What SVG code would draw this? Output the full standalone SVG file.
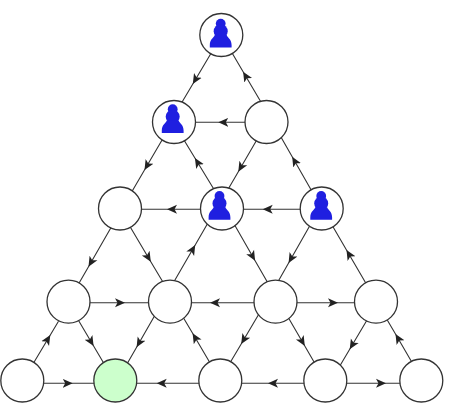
<svg xmlns="http://www.w3.org/2000/svg" width="465" height="406" viewBox="0 0 465 406">
<style>
.n{fill:#fff;stroke:#333;stroke-width:1.3}
.g{fill:#ccffcc;stroke:#333;stroke-width:1.3}
.p{fill:#1f1fe0}
#edges polyline{fill:none;stroke:#333;stroke-width:1.1;marker-mid:url(#a)}
</style>
<defs>
<marker id="a" markerUnits="userSpaceOnUse" markerWidth="12" markerHeight="14" refX="10" refY="7" orient="auto"><path d="M0 2.500 L10 7 L0 11.500 L2.500 7 Z" fill="#222"/></marker>
<g id="pawn" class="p">
<circle cx="0" cy="-11.400" r="4.900"/>
<circle cx="0" cy="-3.800" r="7"/>
<path d="M-6 0 C-6.500 2.500 -10.900 4 -10.900 10 L-10.900 12.500 L10.900 12.500 L10.900 10 C10.900 4 6.500 2.500 6 0 Z"/>
</g>
</defs>
<g id="edges">
<polyline points="211.200,53 192.800,84 182.100,102"/>
<polyline points="260.500,101.300 243.100,71.700 232.100,53"/>
<polyline points="250,122.300 218.300,122.300 190,122.300"/>
<polyline points="162.200,139.700 144.500,170 132.100,191.300"/>
<polyline points="213.900,189.300 194.900,158 183.800,139.700"/>
<polyline points="256.900,139.700 238.300,171.700 228.100,189.300"/>
<polyline points="311.900,191.300 292.200,156.700 280.500,136.300"/>
<polyline points="205,209.300 167,209.300 137,209.300"/>
<polyline points="305,209.300 262.700,209.300 240,209.300"/>
<polyline points="111.200,227.300 88.500,266.700 78.100,284.700"/>
<polyline points="129.800,226.300 150.800,261.700 162.900,282"/>
<polyline points="173.800,282 195.200,245 207.900,223"/>
<polyline points="234.500,224.700 255.100,260.700 267.900,283"/>
<polyline points="309.500,226.300 288.600,263 277.800,282"/>
<polyline points="366.200,283.700 346.500,250 332.100,225.300"/>
<polyline points="80,302.700 125,302.700 160,302.700"/>
<polyline points="262,302.700 210,302.700 180,302.700"/>
<polyline points="290,302.700 338,302.700 360,302.700"/>
<polyline points="33.100,363.700 50.300,335 58.500,321.300"/>
<polyline points="78.100,319.700 93.600,346 103.500,362.700"/>
<polyline points="155.200,314.700 136.600,347.300 127.100,363.700"/>
<polyline points="209.500,362 192.600,333.300 183.100,317.300"/>
<polyline points="259.500,313 241.200,344 230.500,362"/>
<polyline points="288.100,317.300 304.800,346 314.500,362.700"/>
<polyline points="367.200,319.700 349.700,349.300 339.800,366"/>
<polyline points="412.200,362.700 395.500,334 386.500,318.700"/>
<polyline points="40,383.300 72.700,383.300 100,383.300"/>
<polyline points="205,383.300 156.700,383.300 130,383.300"/>
<polyline points="310,383.300 268,383.300 235,383.300"/>
<polyline points="340,383.300 386,383.300 405,383.300"/>
</g>
<g id="n00"><circle class="n" cx="221.300" cy="35" r="21.500"/><use href="#pawn" x="220.700" y="35"/></g>
<g id="n10"><circle class="n" cx="174" cy="122" r="21.500"/><use href="#pawn" x="172.700" y="120.600"/></g>
<g id="n11"><circle class="n" cx="266.500" cy="122" r="21.500"/></g>
<g id="n20"><circle class="n" cx="120" cy="208.500" r="21.500"/></g>
<g id="n21"><circle class="n" cx="222" cy="208.500" r="21.500"/><use href="#pawn" x="219.500" y="207.300"/></g>
<g id="n22"><circle class="n" cx="321.700" cy="208.500" r="21.500"/><use href="#pawn" x="321.200" y="207.300"/></g>
<g id="n30"><circle class="n" cx="68.500" cy="301.700" r="21.500"/></g>
<g id="n31"><circle class="n" cx="170" cy="301.700" r="21.500"/></g>
<g id="n32"><circle class="n" cx="275.500" cy="301.700" r="21.500"/></g>
<g id="n33"><circle class="n" cx="376" cy="301.700" r="21.500"/></g>
<g id="n40"><circle class="n" cx="22.300" cy="380.500" r="21.500"/></g>
<g id="n41"><circle class="g" cx="115.300" cy="380.500" r="21.500"/></g>
<g id="n42"><circle class="n" cx="220.300" cy="380.500" r="21.500"/></g>
<g id="n43"><circle class="n" cx="325.300" cy="380.500" r="21.500"/></g>
<g id="n44"><circle class="n" cx="421.300" cy="380.500" r="21.500"/></g>
</svg>
